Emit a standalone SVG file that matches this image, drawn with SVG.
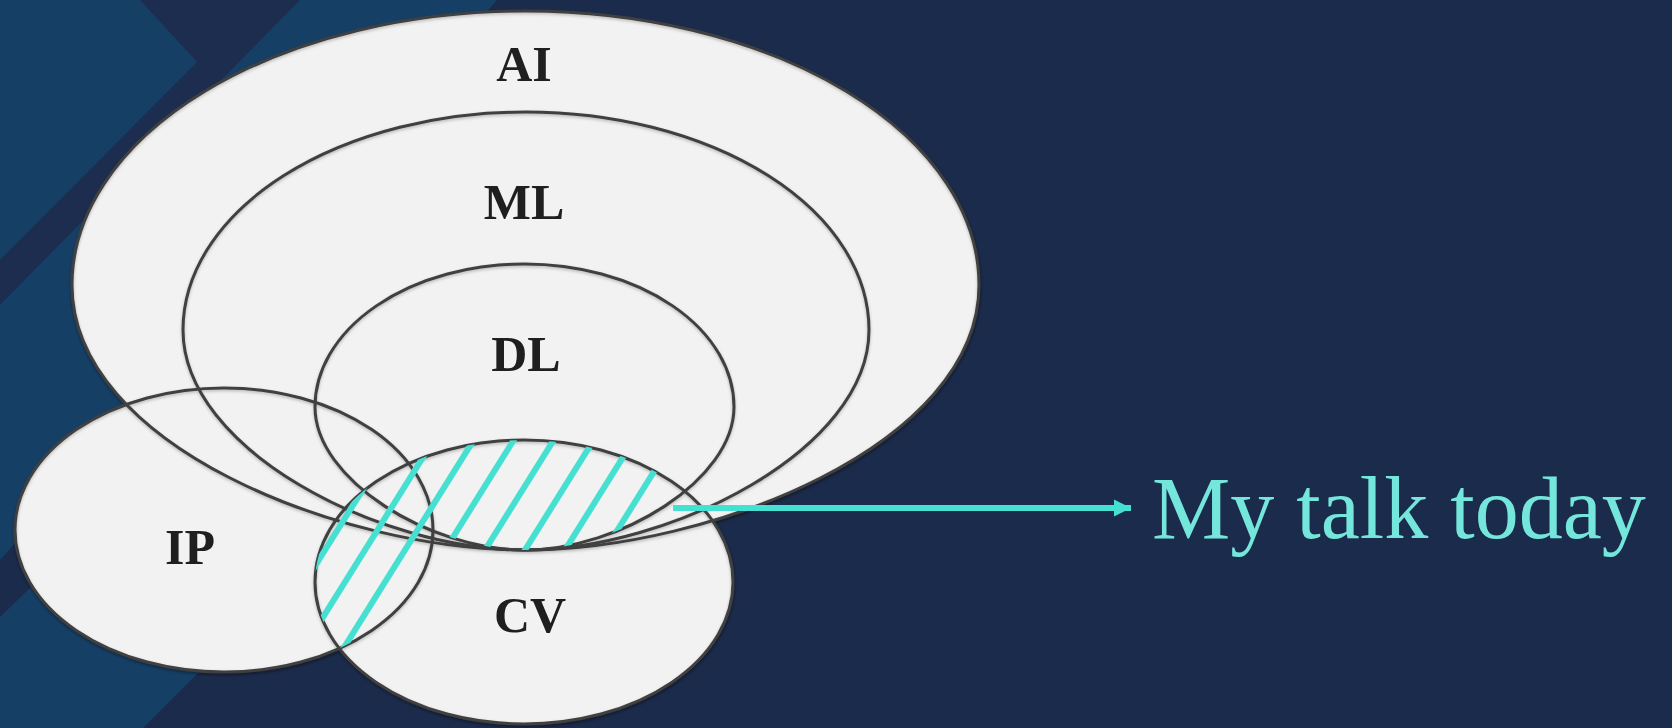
<svg xmlns="http://www.w3.org/2000/svg" width="1672" height="728" viewBox="0 0 1672 728">
  <style>
    .fill { fill: #f2f2f2; stroke: none; }
    .edge { fill: none; stroke: #404040; stroke-width: 3; }
    .label { font-family: "Liberation Serif", "Times New Roman", serif; font-weight: bold; font-size: 50px; fill: #1f1f1f; text-anchor: middle; }
    .hatch { stroke: #45e0d2; stroke-width: 6; stroke-linecap: butt; }
    .callout { font-family: "Liberation Serif", "Times New Roman", serif; font-size: 88px; fill: #74e6dc; }
  </style>
  <defs>
    <!-- teardrop outlines sharing one cusp at (525,550) -->
    <path id="shapeAI" d="M 525 550 C 340 550, 72 445, 72 285 A 453.5 274 0 0 1 979 285 C 979 445, 710 550, 525 550 Z"/>
    <path id="shapeML" d="M 525 550 C 380 550, 183 450, 183 330 A 343 218 0 0 1 869 330 C 869 450, 670 550, 525 550 Z"/>
    <path id="shapeDL" d="M 525 550 C 430 550, 315 480, 315 407 A 209.5 143 0 0 1 734 407 C 734 480, 620 550, 525 550 Z"/>
    <ellipse id="shapeIP" cx="224" cy="530" rx="209" ry="142"/>
    <ellipse id="shapeCV" cx="524" cy="582" rx="209" ry="142"/>
    <clipPath id="clipCV"><use href="#shapeCV"/></clipPath>
    <clipPath id="clipIPDL"><use href="#shapeIP"/><use href="#shapeDL"/></clipPath>
    <filter id="soft" x="-10%" y="-10%" width="120%" height="120%">
      <feDropShadow dx="1" dy="2" stdDeviation="2" flood-color="#000" flood-opacity="0.35"/>
    </filter>
    <filter id="edgeShade" x="-10%" y="-10%" width="120%" height="120%">
      <feDropShadow dx="0" dy="1.5" stdDeviation="1.5" flood-color="#000" flood-opacity="0.25"/>
    </filter>
    <marker id="arrowHead" markerUnits="userSpaceOnUse" markerWidth="18" markerHeight="18" refX="17" refY="9" orient="auto">
      <path d="M0,0.5 L17,9 L0,17.5 Z" fill="#45e0d2"/>
    </marker>
  </defs>

  <!-- background with diagonal bands on the left -->
  <rect width="1672" height="728" fill="#1b2b4b"/>
  <polygon points="0,0 497,0 0,560" fill="#163f66"/>
  <polygon points="140,0 300,0 0,305 0,260 197,62" fill="#1d2d4f"/>
  <polygon points="0,617 100,520 500,372 143,728 0,728" fill="#163f66"/>

  <!-- fills -->
  <g id="fills" filter="url(#soft)">
    <use href="#shapeAI" class="fill"/>
    <use href="#shapeML" class="fill"/>
    <use href="#shapeDL" class="fill"/>
    <use href="#shapeIP" class="fill"/>
    <use href="#shapeCV" class="fill"/>
  </g>

  <!-- outlines -->
  <g id="outlines" filter="url(#edgeShade)">
    <g id="node-AI"><use href="#shapeAI" class="edge"/></g>
    <g id="node-ML"><use href="#shapeML" class="edge" stroke-width="2.6"/></g>
    <g id="node-DL"><use href="#shapeDL" class="edge" stroke-width="2.6"/></g>
    <g id="node-IP"><use href="#shapeIP" class="edge"/></g>
    <g id="node-CV"><use href="#shapeCV" class="edge"/></g>
  </g>

  <!-- hatching over CV ∩ (IP ∪ DL) -->
  <g id="hatched-region" clip-path="url(#clipCV)">
    <g clip-path="url(#clipIPDL)">
      <line class="hatch" x1="231.25" y1="700" x2="418.75" y2="400"/>
      <line class="hatch" x1="271.25" y1="700" x2="458.75" y2="400"/>
      <line class="hatch" x1="311.25" y1="700" x2="498.75" y2="400"/>
      <line class="hatch" x1="351.25" y1="700" x2="538.75" y2="400"/>
      <line class="hatch" x1="391.25" y1="700" x2="578.75" y2="400"/>
      <line class="hatch" x1="431.25" y1="700" x2="618.75" y2="400"/>
      <line class="hatch" x1="471.25" y1="700" x2="658.75" y2="400"/>
      <line class="hatch" x1="511.25" y1="700" x2="698.75" y2="400"/>
    </g>
  </g>

  <!-- labels -->
  <g id="labels">
    <text class="label" x="524" y="81">AI</text>
    <text class="label" x="524" y="219">ML</text>
    <text class="label" x="526" y="371">DL</text>
    <text class="label" x="190" y="564">IP</text>
    <text class="label" x="530" y="632">CV</text>
  </g>

  <!-- connector -->
  <g id="connectors">
    <line x1="673" y1="508" x2="1131" y2="508" stroke="#45e0d2" stroke-width="6" marker-end="url(#arrowHead)"/>
  </g>

  <g id="node-talk">
    <text class="callout" x="1152" y="538">My talk today</text>
  </g>
</svg>
